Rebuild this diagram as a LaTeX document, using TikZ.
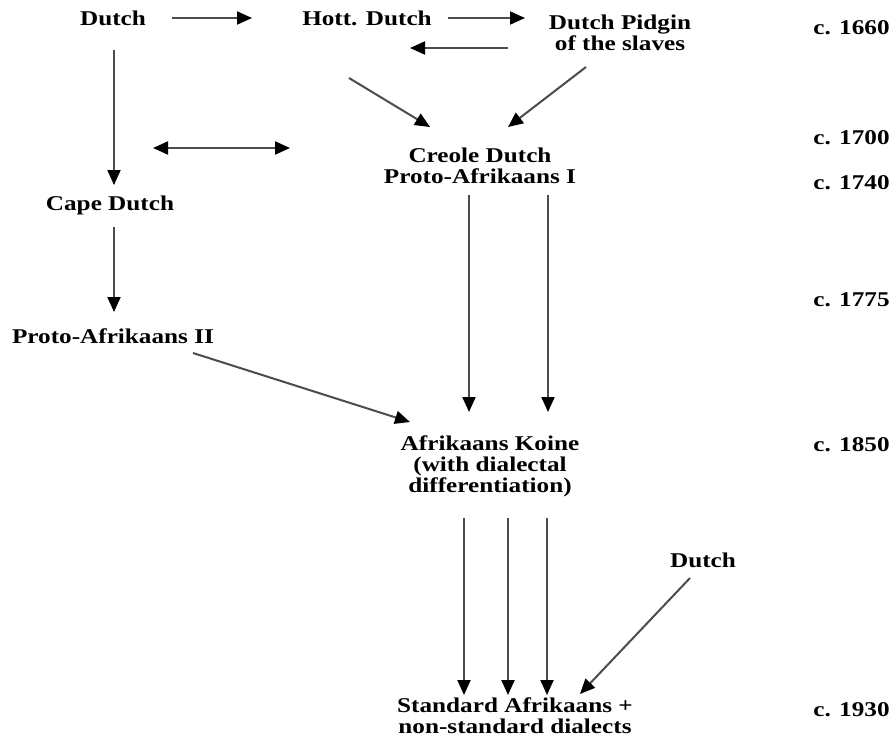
\documentclass[tikz,border=0pt]{standalone}
\usepackage{fontspec}
\setmainfont{Liberation Serif}[FakeStretch=1.2]
\usetikzlibrary{arrows.meta,calc}

\begin{document}
\begin{tikzpicture}[x=1pt, y=-1pt, thick,
    lang/.style={font=\bfseries\fontsize{21}{21}\selectfont, align=center, inner sep=1pt},
    date/.style={lang, anchor=east},
    arr/.style={draw=black!70, line width=2pt, -{Triangle[length=15pt, width=13pt, black]}}]

    \useasboundingbox (0,0) rectangle (896,739);

    \node[lang] at (113,18)  (D)    {Dutch};
    \node[lang] at (367,18)  (H)    {Hott. Dutch};
    \node[lang] at (620,33)  (P)    {Dutch Pidgin\\of the slaves};
    \node[lang] at (480,166) (CD)   {Creole Dutch\\Proto-Afrikaans I};
    \node[lang] at (110,205) (CAPE) {Cape Dutch};
    \node[lang] at (113,336) (PA2)  {Proto-Afrikaans II};
    \node[lang] at (490,466) (K)    {Afrikaans Koine\\(with dialectal\\differentiation)};
    \node[lang] at (703,560) (D2)   {Dutch};
    \node[lang] at (515,716) (S)    {Standard Afrikaans +\\non-standard dialects};

    % dates
    \node[date] at (891,28)  (T1660) {c. 1660};
    \node[date] at (891,138) (T1700) {c. 1700};
    \node[date] at (891,183) (T1740) {c. 1740};
    \node[date] at (891,300) (T1775) {c. 1775};
    \node[date] at (891,445) (T1850) {c. 1850};
    \node[date] at (891,710) (T1930) {c. 1930};

    \draw[arr] ($(D)+(59,0)$) -- ($(H)+(-115,0)$);
    \draw[arr] ($(H)+(81,0)$) -- ($(P)+(-95,-15)$);
    \draw[arr] ($(P)+(-112,15)$) -- ($(H)+(43,30)$);
    \draw[arr] ($(H)+(-18,60)$) -- ($(CD)+(-50,-39)$);
    \draw[arr] ($(P)+(-34,34)$) -- ($(CD)+(28,-39)$);
    \draw[arr] ($(D)+(1,32)$) -- ($(CAPE)+(4,-20)$);
    \draw[arr, {Triangle[length=15pt, width=13pt, black]}-{Triangle[length=15pt, width=13pt, black]}] ($(CAPE)+(43,-57)$) -- ($(CD)+(-190,-18)$);
    \draw[arr] ($(CAPE)+(4,22)$) -- ($(PA2)+(1,-24)$);
    \draw[arr] ($(PA2)+(80,17)$) -- ($(K)+(-80,-44)$);

    \draw[arr] ($(CD)+(-11,29)$) -- ($(K)+(-21,-54)$);
    \draw[arr] ($(CD)+(68,29)$) -- ($(K)+(58,-54)$);

    \foreach \a/\b in {-26/-51, 18/-7, 57/32}
        \draw[arr] ($(K)+(\a,52)$) -- ($(S)+(\b,-21)$);
    \draw[arr] ($(D2)+(-13,18)$) -- ($(S)+(65,-22)$);

\end{tikzpicture}
\end{document}
